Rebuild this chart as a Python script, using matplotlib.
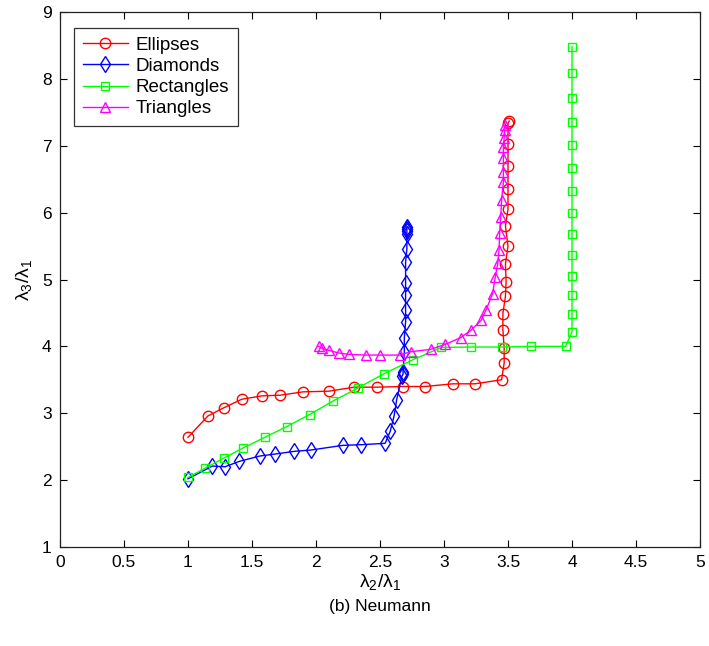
import matplotlib
matplotlib.use("Agg")
import matplotlib.pyplot as plt

plt.rcParams['font.family'] = ['Liberation Sans', 'DejaVu Sans']
plt.rcParams['mathtext.fontset'] = 'custom'
plt.rcParams['mathtext.rm'] = 'Liberation Sans'
plt.rcParams['mathtext.it'] = 'Liberation Sans:italic'

ell_x = [1.00, 1.156, 1.278, 1.42, 1.578, 1.72, 1.90, 2.10, 2.30, 2.48, 2.68, 2.85, 3.07, 3.24,
         3.45, 3.47, 3.47, 3.46, 3.46, 3.48, 3.485, 3.48, 3.50, 3.48, 3.50, 3.50, 3.50, 3.50, 3.50, 3.51]
ell_y = [2.64, 2.96, 3.08, 3.21, 3.26, 3.27, 3.32, 3.33, 3.39, 3.39, 3.40, 3.40, 3.44, 3.44,
         3.50, 3.75, 3.97, 4.25, 4.49, 4.75, 4.97, 5.23, 5.50, 5.80, 6.05, 6.36, 6.70, 7.02, 7.34, 7.37]

dia_x = [1.00, 1.19, 1.29, 1.40, 1.56, 1.68, 1.83, 1.96, 2.21, 2.355, 2.54, 2.58, 2.61, 2.63,
         2.67, 2.68, 2.68, 2.69, 2.69, 2.70, 2.70, 2.70, 2.70, 2.70, 2.71, 2.71, 2.71, 2.71, 2.71]
dia_y = [2.02, 2.21, 2.20, 2.28, 2.36, 2.39, 2.43, 2.45, 2.52, 2.53, 2.55, 2.73, 2.96, 3.20,
         3.55, 3.58, 3.62, 3.92, 4.12, 4.37, 4.55, 4.77, 4.95, 5.26, 5.46, 5.68, 5.72, 5.75, 5.78]

rec_x = [1.00, 1.135, 1.28, 1.43, 1.60, 1.77, 1.95, 2.13, 2.33, 2.53, 2.757, 2.98, 3.21, 3.456,
         3.68, 3.95, 4.00, 4.00, 4.00, 4.00, 4.00, 4.00, 4.00, 4.00, 4.00, 4.00, 4.00, 4.00, 4.00, 4.00]
rec_y = [2.04, 2.18, 2.33, 2.48, 2.64, 2.80, 2.98, 3.18, 3.38, 3.59, 3.80, 3.985, 3.99, 3.99,
         4.0, 4.0, 4.22, 4.48, 4.77, 5.05, 5.36, 5.68, 5.99, 6.32, 6.67, 7.01, 7.36, 7.72, 8.09, 8.48]

tri_x = [2.02, 2.05, 2.10, 2.18, 2.26, 2.39, 2.50, 2.655, 2.74, 2.895, 3.01, 3.13, 3.21, 3.29,
         3.33, 3.38, 3.40, 3.42, 3.43, 3.435, 3.443, 3.45, 3.464, 3.464, 3.464, 3.464, 3.47, 3.474, 3.48]
tri_y = [4.00, 3.97, 3.94, 3.90, 3.88, 3.87, 3.87, 3.87, 3.92, 3.955, 4.03, 4.13, 4.24, 4.39,
         4.55, 4.79, 5.03, 5.24, 5.44, 5.69, 5.93, 6.19, 6.46, 6.61, 6.81, 6.98, 7.12, 7.23, 7.31]

x_ticks = [0, 0.5, 1, 1.5, 2, 2.5, 3, 3.5, 4, 4.5, 5]
y_ticks = [1, 2, 3, 4, 5, 6, 7, 8, 9]

fig = plt.figure(figsize=(7.09, 6.46), dpi=100)
ax = fig.add_axes([60/709, 1-547/646, 640/709, 535/646])

mk = dict(markerfacecolor='none', linewidth=1.0, markeredgewidth=1.0)
ax.plot(ell_x, ell_y, '-o', color=(1, 0, 0), markersize=7.5, label='Ellipses', **mk)
ax.plot(dia_x, dia_y, '-d', color=(0, 0, 1), markersize=8.5, label='Diamonds', **mk)
ax.plot(rec_x, rec_y, '-s', color=(0, 1, 0), markersize=5.8, label='Rectangles', **mk)
ax.plot(tri_x, tri_y, '-^', color=(1, 0, 1), markersize=7.5, label='Triangles', **mk)

ax.set_xlim(0, 5)
ax.set_ylim(1, 9)
ax.set_xticks(x_ticks)
ax.set_xticklabels(['0', '0.5', '1', '1.5', '2', '2.5', '3', '3.5', '4', '4.5', '5'])
ax.set_yticks(y_ticks)
ax.tick_params(direction='in', top=True, right=True, length=5, width=0.8, labelsize=12.5, pad=6)
for s in ax.spines.values():
    s.set_linewidth(0.9)
    s.set_color('#222222')

ax.set_xlabel(r'$\mathregular{\lambda_2/\lambda_1}$', fontsize=14, labelpad=1)
ax.set_ylabel(r'$\mathregular{\lambda_3/\lambda_1}$', fontsize=14, labelpad=6)

leg = ax.legend(loc='upper left', bbox_to_anchor=(0.022, 0.970), fontsize=13.5, frameon=True,
                fancybox=False, edgecolor='black', handlelength=2.4, borderpad=0.45,
                labelspacing=0.22, handletextpad=0.45, borderaxespad=0.0)
leg.get_frame().set_linewidth(0.9)

fig.text(380/709, 1-606/646, '(b) Neumann', ha='center', va='center', fontsize=12.5)

fig.savefig('out.png', dpi=100, facecolor='white')
